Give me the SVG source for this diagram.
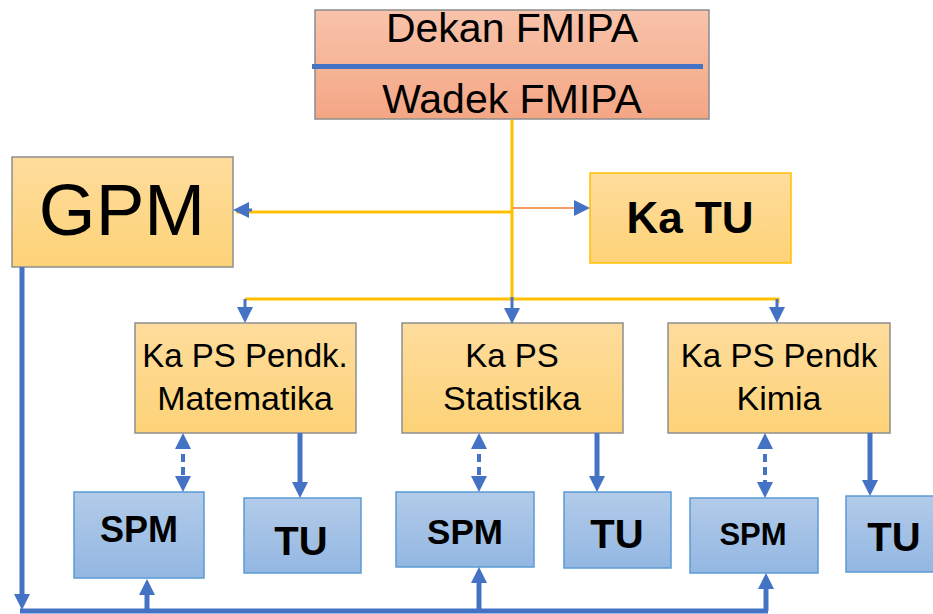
<svg xmlns="http://www.w3.org/2000/svg" width="933" height="614" viewBox="0 0 933 614">
<defs>
<linearGradient id="gRed" x1="0" y1="0" x2="0" y2="1"><stop offset="0" stop-color="#F8C3AB"/><stop offset="1" stop-color="#F4A684"/></linearGradient>
<linearGradient id="gOr" x1="0" y1="0" x2="0" y2="1"><stop offset="0" stop-color="#FEDC9C"/><stop offset="1" stop-color="#FDD378"/></linearGradient>
<linearGradient id="gBl" x1="0" y1="0" x2="0" y2="1"><stop offset="0" stop-color="#B2CBE9"/><stop offset="1" stop-color="#93B7E2"/></linearGradient>
<marker id="ah" viewBox="0 0 10 10" refX="5" refY="5" markerWidth="16" markerHeight="16" markerUnits="userSpaceOnUse" orient="auto-start-reverse"><path d="M0,0 L10,5 L0,10 z" fill="#4472C4"/></marker>
</defs>
<style>
text{font-family:"Liberation Sans",Arial,sans-serif;fill:#000;text-anchor:middle}
.b{font-weight:bold}
.orbox{fill:url(#gOr);stroke:#8E8E8E;stroke-width:1.5}
.blbox{fill:url(#gBl);stroke:#5B9BD5;stroke-width:1.5}
.y{fill:none;stroke:#FFC000;stroke-width:3}
.bl{fill:none;stroke:#4472C4;stroke-width:5}
.bt{fill:none;stroke:#4472C4;stroke-width:3}
.ds{fill:none;stroke:#4472C4;stroke-width:4;stroke-dasharray:8 5}
</style>
<g id="dekan">
<rect x="315" y="10" width="394" height="109" fill="url(#gRed)" stroke="#8C8C8C" stroke-width="1.5"/>
<line x1="312" y1="66.5" x2="703" y2="66.5" stroke="#4472C4" stroke-width="5"/>
<text x="512" y="42" font-size="41">Dekan FMIPA</text>
<text x="512" y="113" font-size="41">Wadek FMIPA</text>
</g>
<g id="gpm">
<rect x="12" y="157" width="221" height="110" class="orbox"/>
<text x="122" y="235" font-size="73">GPM</text>
</g>
<g id="katu">
<rect x="590" y="173" width="201" height="90" fill="url(#gOr)" stroke="#FFC000" stroke-width="1.5"/>
<text x="690" y="233" font-size="44" class="b">Ka TU</text>
</g>
<g id="ps-mat">
<rect x="135" y="323" width="221" height="110" class="orbox"/>
<text x="245" y="367" font-size="33">Ka PS Pendk.</text>
<text x="245" y="410" font-size="34">Matematika</text>
</g>
<g id="ps-stat">
<rect x="402" y="323" width="221" height="110" class="orbox"/>
<text x="512" y="367" font-size="33">Ka PS</text>
<text x="512" y="410" font-size="34">Statistika</text>
</g>
<g id="ps-kim">
<rect x="668" y="323" width="222" height="110" class="orbox"/>
<text x="779" y="367" font-size="33">Ka PS Pendk</text>
<text x="779" y="410" font-size="34">Kimia</text>
</g>
<g id="spm1">
<rect x="74" y="492" width="130" height="86" class="blbox"/>
<text x="139" y="542" font-size="36" class="b">SPM</text>
</g>
<g id="tu1">
<rect x="244" y="498" width="117" height="75" class="blbox"/>
<text x="301" y="555" font-size="40" class="b">TU</text>
</g>
<g id="spm2">
<rect x="396" y="492" width="138" height="75" class="blbox"/>
<text x="465" y="544" font-size="35" class="b">SPM</text>
</g>
<g id="tu2">
<rect x="564" y="492" width="107" height="76" class="blbox"/>
<text x="617" y="548" font-size="40" class="b">TU</text>
</g>
<g id="spm3">
<rect x="690" y="498" width="128" height="75" class="blbox"/>
<text x="753" y="545" font-size="31" class="b">SPM</text>
</g>
<g id="tu3">
<rect x="846" y="496" width="90" height="76" class="blbox"/>
<text x="894" y="551" font-size="40" class="b">TU</text>
</g>
<g id="connectors">
<path class="y" d="M512,120 V299"/>
<path class="y" d="M512,212 H236"/>
<path class="y" d="M245,299 H778 V303"/>
<path d="M513,208 H580" fill="none" stroke="#ED7D31" stroke-width="1.5"/>
<path class="bt" d="M252,210 H241" marker-end="url(#ah)"/>
<path class="bt" d="M576,208 H582" marker-end="url(#ah)"/>
<path class="bt" d="M245,299 V315" marker-end="url(#ah)"/>
<path class="bt" d="M512,297 V316" marker-end="url(#ah)"/>
<path class="bt" d="M777,299 V315" marker-end="url(#ah)"/>
<path class="ds" d="M183,441 V484" marker-start="url(#ah)" marker-end="url(#ah)"/>
<path class="ds" d="M479,441 V484" marker-start="url(#ah)" marker-end="url(#ah)"/>
<path class="ds" d="M765,441 V490" marker-start="url(#ah)" marker-end="url(#ah)"/>
<path class="bl" d="M300,433 V490" marker-end="url(#ah)"/>
<path class="bl" d="M597,433 V484" marker-end="url(#ah)"/>
<path class="bl" d="M870,433 V488" marker-end="url(#ah)"/>
<path class="bl" d="M22,267 V602" marker-end="url(#ah)"/>
<path class="bl" d="M20,611 H768"/>
<path class="bl" d="M147,611 V587" marker-end="url(#ah)"/>
<path class="bl" d="M479,611 V575" marker-end="url(#ah)"/>
<path class="bl" d="M766,611 V581" marker-end="url(#ah)"/>
</g>
</svg>
